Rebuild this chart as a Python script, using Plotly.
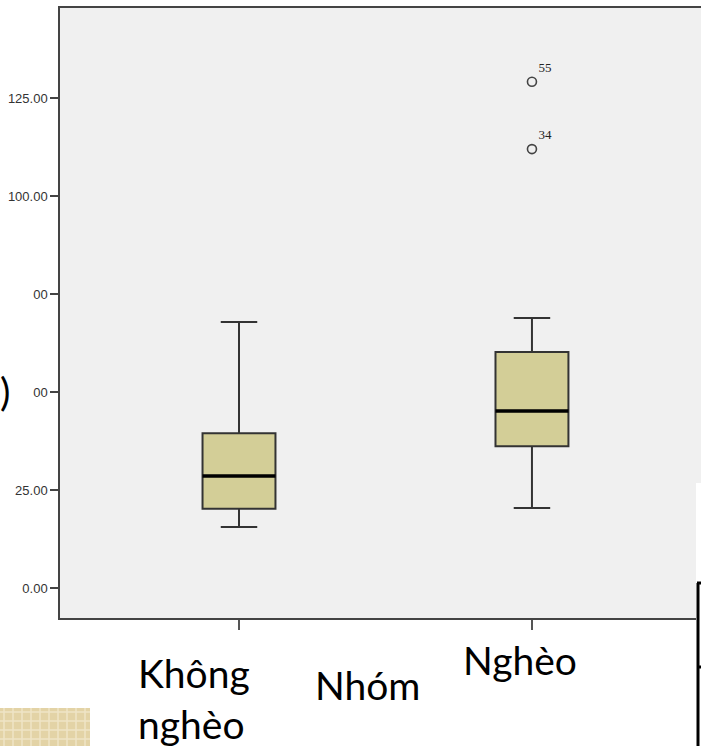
import plotly.graph_objects as go

# ---- data ----
categories = ["Không nghèo", "Nghèo"]
q1_vals = [20.2, 36.2]
median_vals = [28.6, 45.2]
q3_vals = [39.5, 60.2]
lower_whisker = [15.6, 20.4]
upper_whisker = [67.9, 68.9]

outlier_cat = ["Nghèo", "Nghèo"]
outlier_vals = [129.2, 112.0]
outlier_ids = ["55", "34"]

tick_vals = [0, 25, 50, 75, 100, 125]
tick_text = ["0.00", "25.00", "00", "00", "100.00", "125.00"]

W, H = 701, 746
ML, MR, MT, MB = 60, 0, 8, 128
PW, PH = W - ML - MR, H - MT - MB


def px(x):
    return (x - ML) / PW


def py(y):
    return (H - MB - y) / PH


fig = go.Figure()

fig.add_trace(go.Box(
    x=categories, q1=q1_vals, median=median_vals, q3=q3_vals,
    lowerfence=lower_whisker, upperfence=upper_whisker,
    width=0.249, whiskerwidth=0.5,
    fillcolor="#D3CE97", line=dict(color="#333333", width=2),
    boxpoints=False, showlegend=False, hoverinfo="skip",
))
# thick median line
fig.add_trace(go.Box(
    x=categories, q1=median_vals, median=median_vals, q3=median_vals,
    lowerfence=median_vals, upperfence=median_vals,
    width=0.249, whiskerwidth=0.0,
    fillcolor="rgba(0,0,0,0)", line=dict(color="#000000", width=3.5),
    boxpoints=False, showlegend=False, hoverinfo="skip",
))
fig.add_trace(go.Scatter(
    x=outlier_cat, y=outlier_vals, mode="markers+text",
    text=outlier_ids, textposition="top right",
    textfont=dict(family="Liberation Serif", size=13, color="#222222"),
    marker=dict(symbol="circle-open", size=9, color="#444444",
                line=dict(width=1.6, color="#444444")),
    showlegend=False, hoverinfo="skip",
))

fig.update_xaxes(
    type="category", range=[-0.611, 1.577],
    showline=True, linecolor="#444444", linewidth=1.5, mirror=True,
    ticks="outside", ticklen=10, tickcolor="#555555", tickwidth=1.5,
    showticklabels=False, showgrid=False, zeroline=False,
)
fig.update_yaxes(
    range=[-7.65, 148.0],
    showline=True, linecolor="#444444", linewidth=1.5, mirror=False,
    ticks="outside", ticklen=8, tickcolor="#444444", tickwidth=1.5,
    tickvals=tick_vals, ticktext=tick_text,
    tickfont=dict(family="Liberation Sans", size=13, color="#333333"),
    showgrid=False, zeroline=False,
)

big = dict(family="Lato", size=39, color="#000000")
annotations = [
    dict(x=px(136), y=py(698), text="Không<br>nghèo", xanchor="left", yanchor="middle",
         align="left", font=big),
    dict(x=px(313), y=py(685), text="Nhóm", xanchor="left", yanchor="middle", font=big),
    dict(x=px(461), y=py(660), text="Nghèo", xanchor="left", yanchor="middle", font=big),
    dict(x=px(12), y=py(391), text=")", xanchor="right", yanchor="middle", font=big),
]
for a in annotations:
    a.update(xref="paper", yref="paper", showarrow=False)

shapes = [
    # white slide overlay at right
    dict(type="rect", xref="paper", yref="paper", x0=px(696), x1=px(705), y0=py(750), y1=py(483),
         fillcolor="white", line=dict(width=0), layer="above"),
    dict(type="line", xref="paper", yref="paper", x0=px(698), x1=px(698), y0=py(750), y1=py(583),
         line=dict(color="black", width=3), layer="above"),
    dict(type="line", xref="paper", yref="paper", x0=px(697), x1=px(705), y0=py(583), y1=py(583),
         line=dict(color="black", width=3), layer="above"),
    dict(type="line", xref="paper", yref="paper", x0=px(697), x1=px(705), y0=py(667), y1=py(667),
         line=dict(color="black", width=3), layer="above"),
    # decorative patterned tile at bottom-left
    dict(type="rect", xref="paper", yref="paper", x0=px(-5), x1=px(90), y0=py(750), y1=py(708),
         fillcolor="#E3D3A6", line=dict(width=0), layer="above"),
]
# light checker texture on the tile
for gx in range(4, 90, 9):
    shapes.append(dict(type="line", xref="paper", yref="paper", x0=px(gx), x1=px(gx),
                       y0=py(750), y1=py(708), line=dict(color="#EFE4C6", width=1.5),
                       layer="above"))
for gy in range(712, 750, 9):
    shapes.append(dict(type="line", xref="paper", yref="paper", x0=px(-5), x1=px(90),
                       y0=py(gy), y1=py(gy), line=dict(color="#EFE4C6", width=1.5),
                       layer="above"))

fig.update_layout(
    width=W, height=H, margin=dict(l=ML, r=MR, t=MT, b=MB),
    paper_bgcolor="white", plot_bgcolor="#F0F0F0",
    boxmode="overlay", showlegend=False,
    annotations=annotations, shapes=shapes,
)

fig.write_html(
    "out.html",
    config={"displayModeBar": False},
    post_script="document.body.style.margin='0';document.body.style.overflow='hidden';",
)
